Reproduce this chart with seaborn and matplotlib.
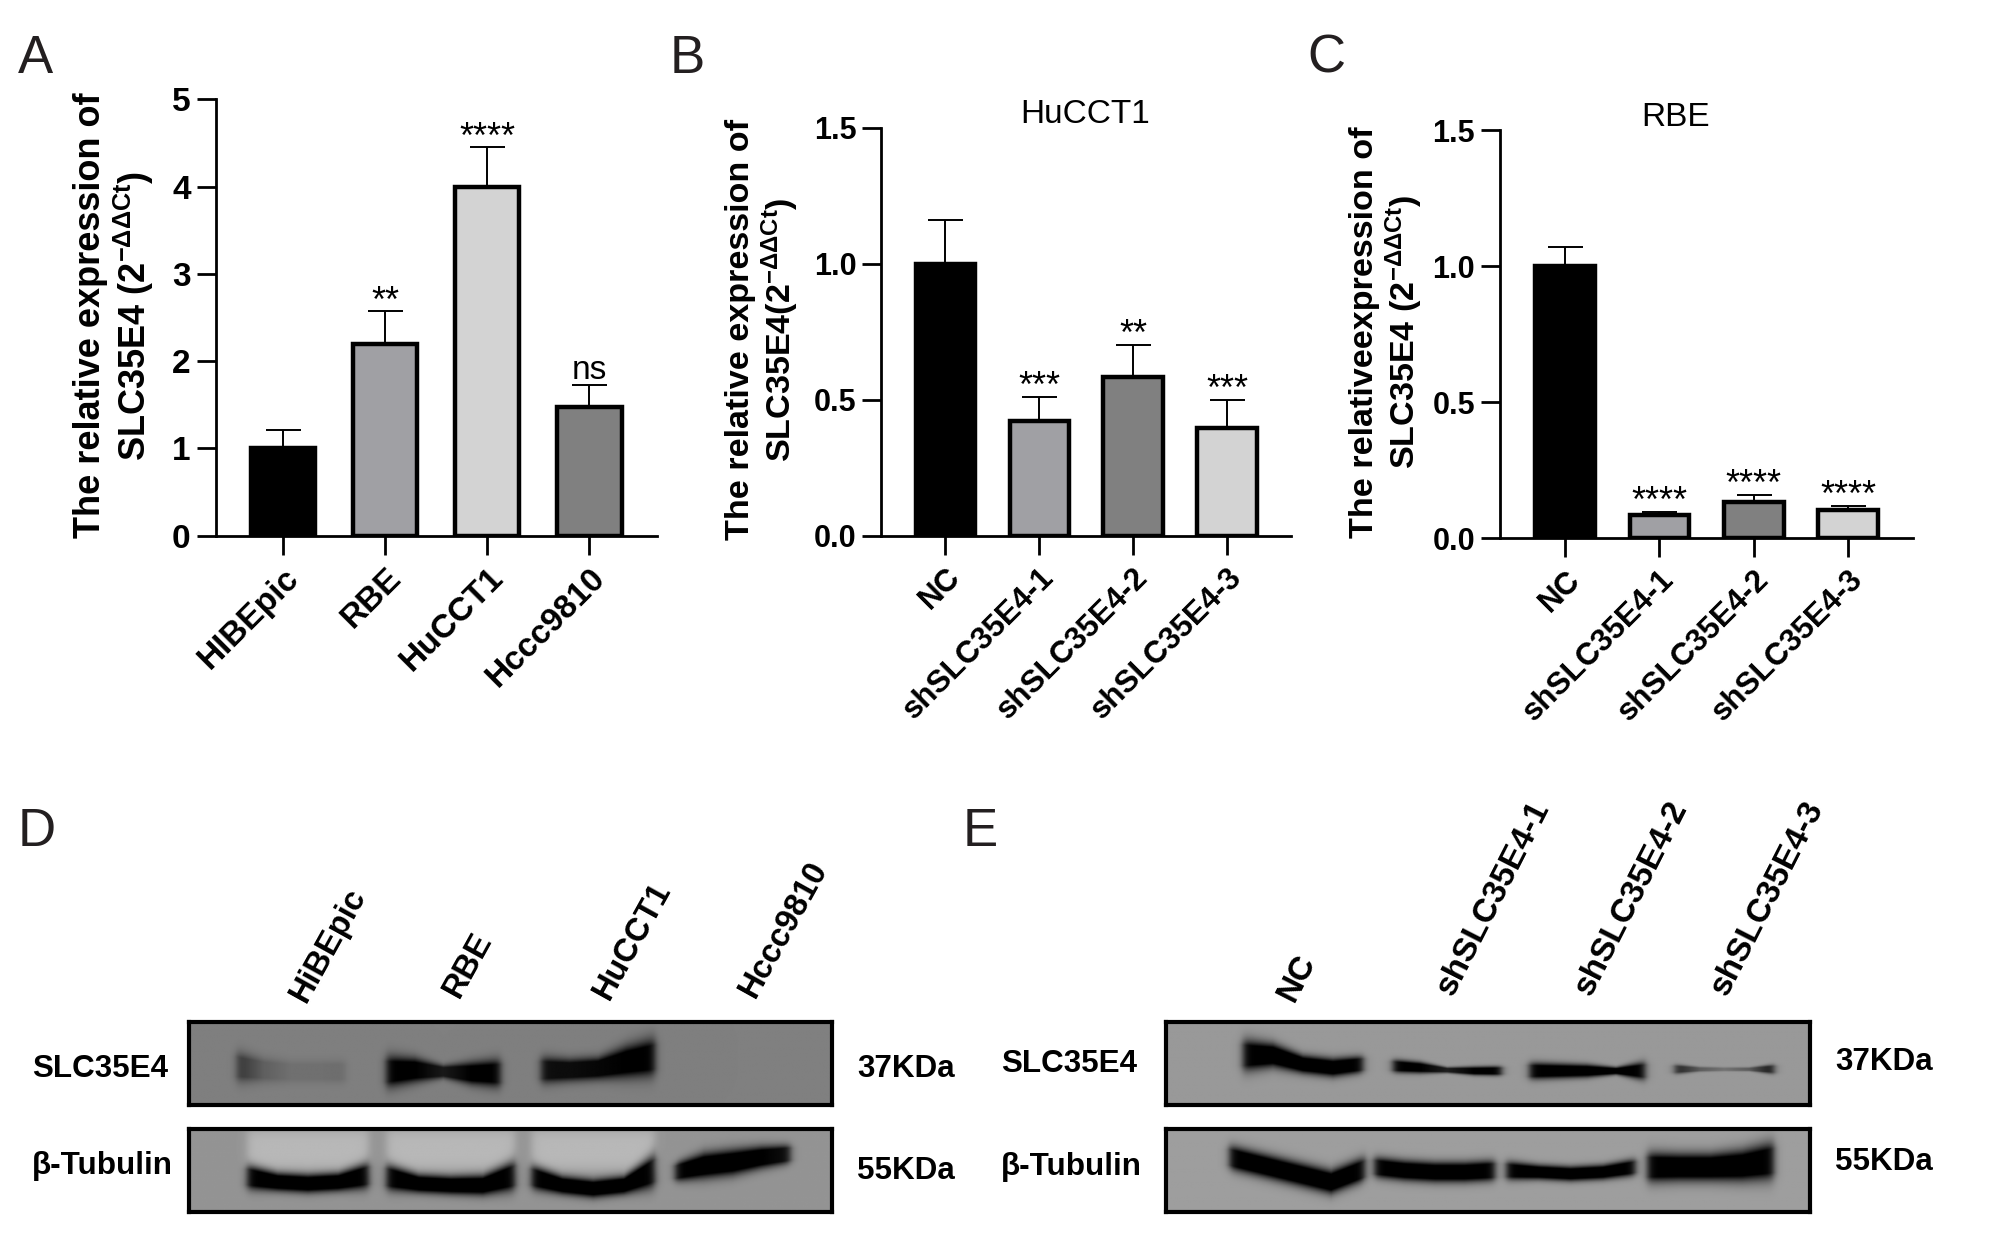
import numpy as np
import pandas as pd
import seaborn as sns
import matplotlib.pyplot as plt

# bar panels
groups_a = ['HIBEpic', 'RBE', 'HuCCT1', 'Hccc9810']
means_a = [1.0, 2.2, 4.0, 1.47]
tops_a = [1.21, 2.57, 4.45, 1.73]
sig_a = ['', '**', '****', 'ns']
colors_a = ['#000000', '#a0a0a4', '#d3d3d3', '#808080']
ticks_a = [0, 1, 2, 3, 4, 5]

groups_kd = ['NC', 'shSLC35E4-1', 'shSLC35E4-2', 'shSLC35E4-3']
colors_kd = ['#000000', '#a0a0a4', '#808080', '#d3d3d3']
ticks_kd = [0.0, 0.5, 1.0, 1.5]

means_b = [1.0, 0.42, 0.585, 0.395]
tops_b = [1.16, 0.51, 0.70, 0.50]
sig_b = ['', '***', '**', '***']

means_c = [1.0, 0.085, 0.135, 0.105]
tops_c = [1.07, 0.095, 0.16, 0.12]
sig_c = ['', '****', '****', '****']

# blot bands: x from, x to, then centre y, half thickness and darkness at 5 points across the band
d_top_bands = [
    (0.074, 0.243, [.54, .58, .60, .60, .60], [.16, .13, .12, .12, .12], [.60, .25, .12, .12, .15]),
    (0.307, 0.484, [.60, .58, .60, .62, .62], [.17, .13, .07, .12, .15], [1, 1, .8, 1, 1]),
    (0.548, 0.725, [.58, .58, .56, .48, .42], [.14, .12, .12, .17, .20], [.9, .9, .95, 1, 1]),
]
d_bot_bands = [
    (0.090, 0.279, [.58, .64, .66, .64, .56], [.13, .10, .10, .10, .14], [1, 1, 1, 1, 1]),
    (0.307, 0.507, [.58, .66, .68, .68, .56], [.14, .10, .10, .11, .16], [1, 1, 1, 1, 1]),
    (0.533, 0.725, [.58, .68, .72, .68, .50], [.13, .10, .10, .10, .18], [1, 1, 1, 1, 1]),
    (0.757, 0.936, [.52, .44, .40, .34, .30], [.10, .14, .14, .12, .10], [1, 1, 1, 1, .9]),
]
d_bot_halos = [(0.09, 0.279), (0.307, 0.507), (0.533, 0.725)]

e_top_bands = [
    (0.119, 0.305, [.40, .40, .51, .55, .51], [.17, .13, .10, .10, .09], [1, 1, 1, 1, 1]),
    (0.352, 0.520, [.53, .55, .58, .59, .59], [.07, .06, .03, .045, .05], [1, 1, .8, 1, 1]),
    (0.564, 0.743, [.59, .59, .59, .59, .59], [.09, .08, .07, .04, .10], [1, 1, 1, 1, 1]),
    (0.790, 0.943, [.57, .57, .57, .57, .57], [.05, .025, .02, .02, .05], [.8, .4, .25, .4, .9]),
]
e_bot_bands = [
    (0.098, 0.308, [.34, .44, .54, .64, .48], [.13, .13, .13, .13, .13], [1, 1, 1, 1, 1]),
    (0.323, 0.510, [.46, .50, .52, .52, .50], [.11, .11, .11, .11, .11], [1, 1, 1, 1, 1]),
    (0.528, 0.728, [.50, .52, .54, .52, .46], [.10, .08, .08, .08, .09], [1, 1, 1, 1, 1]),
    (0.747, 0.943, [.46, .46, .46, .44, .38], [.16, .15, .15, .17, .20], [1, 1, 1, 1, 1]),
]

lanes_d = ['HiBEpic', 'RBE', 'HuCCT1', 'Hccc9810']
lanes_e = ['NC', 'shSLC35E4-1', 'shSLC35E4-2', 'shSLC35E4-3']

sns.set_theme(style='ticks')
plt.rcParams['font.family'] = ['Liberation Sans', 'DejaVu Sans']
plt.rcParams['mathtext.fontset'] = 'custom'
plt.rcParams['mathtext.rm'] = 'Liberation Sans:bold'
plt.rcParams['mathtext.bf'] = 'Liberation Sans:bold'
plt.rcParams['mathtext.it'] = 'Liberation Sans:bold'
for key in ['text.color', 'axes.labelcolor', 'xtick.color', 'ytick.color', 'axes.edgecolor']:
    plt.rcParams[key] = 'black'

S = 2000 / 1568
W, H = 2000, 1245
fig = plt.figure(figsize=(20, 12.45), dpi=100)


def box(x0, y0, x1, y1):
    # corners, y going down
    return [x0 * S / W, 1 - y1 * S / H, (x1 - x0) * S / W, (y1 - y0) * S / H]


def put(x, y, s, **kw):
    fig.text(x * S / W, 1 - y * S / H, s, **kw)


def bar_panel(pos, groups, means, tops, sig, colors, ticks, xlim, ylabel, label_size, label_x,
              xtick_size, ytick_size, title=None, title_x=None):
    ax = fig.add_axes(box(*pos))
    df = pd.DataFrame({'group': groups, 'value': means})
    sns.barplot(data=df, x='group', y='value', hue='group', palette=colors, width=0.63,
                edgecolor='black', linewidth=3.2, errorbar=None, legend=False, ax=ax)
    xs = np.arange(len(groups))
    ax.errorbar(xs, means, yerr=[np.zeros(len(means)), np.array(tops) - np.array(means)],
                fmt='none', ecolor='black', elinewidth=1.4, capsize=12.6, capthick=1.4, zorder=1)
    for x, top, s in zip(xs, tops, sig):
        if s == 'ns':
            ax.annotate(s, (x, top), xytext=(0, 4), textcoords='offset points', ha='center',
                        va='baseline', fontsize=24)
        elif s:
            ax.annotate(s, (x, top), xytext=(0, 0), textcoords='offset points', ha='center',
                        va='baseline', fontsize=26)
    ax.set_xlim(*xlim)
    ax.set_ylim(ticks[0], ticks[-1])
    ax.set_yticks(ticks)
    if ticks[-1] < 2:
        ax.set_yticklabels(['%.1f' % t for t in ticks])
    ax.set_xticks(xs)
    ax.set_xticklabels(groups, rotation=45, ha='right', rotation_mode='anchor')
    ax.tick_params(axis='both', length=14, width=2, pad=4)
    ax.tick_params(axis='x', labelsize=xtick_size, pad=5)
    ax.tick_params(axis='y', labelsize=ytick_size)
    for lab in ax.get_xticklabels() + ax.get_yticklabels():
        lab.set_fontweight('bold')
    ax.set_xlabel('')
    ax.set_ylabel(ylabel, fontsize=label_size, fontweight='bold', linespacing=1.1)
    ax.yaxis.set_label_coords(label_x, 0.505)
    sns.despine(ax=ax)
    ax.spines['left'].set_linewidth(2)
    ax.spines['bottom'].set_linewidth(2)
    if title:
        put(title_x, pos[1] - 10, title, fontsize=24, ha='center', va='center')
    return ax


bar_panel((169, 78, 515, 420), groups_a, means_a, tops_a, sig_a, colors_a, ticks_a, (-0.66, 3.66),
          'The relative expression of\nSLC35E4 (2$^{\\mathbf{-ΔΔCt}}$)', 26, -0.136, 24, 24)
bar_panel((691, 100, 1012, 420), groups_kd, means_b, tops_b, sig_b, colors_kd, ticks_kd, (-0.68, 3.68),
          'The relative expression of\nSLC35E4(2$^{\\mathbf{-ΔΔCt}}$)', 24.6, -0.196, 22.5, 22, 'HuCCT1', 851)
bar_panel((1176, 102, 1500, 422), groups_kd, means_c, tops_c, sig_c, colors_kd, ticks_kd, (-0.69, 3.69),
          'The relativeexpression of\nSLC35E4 (2$^{\\mathbf{-ΔΔCt}}$)', 24.6, -0.182, 22.5, 22, 'RBE', 1314)


def blot_image(bands, bg, halos=()):
    yy, xx = np.mgrid[0:1:140j, 0:1:560j]
    img = np.full(yy.shape, bg, dtype=float)
    for x0, x1 in halos:
        edge = 0.5 * (np.tanh((xx - x0) / 0.008) - np.tanh((xx - x1) / 0.008))
        img += 0.14 * edge * np.exp(-((yy - 0.25) / 0.28) ** 4)
    for x0, x1, ys, thick, dark in bands:
        at = np.linspace(x0, x1, 5)
        cy = np.interp(xx, at, ys)
        th = np.interp(xx, at, thick)
        d = np.interp(xx, at, dark)
        edge = 0.5 * (np.tanh((xx - x0) / 0.007) - np.tanh((xx - x1) / 0.007))
        band = np.clip(1.7 * np.exp(-((yy - cy) / th) ** 2), 0, 1)
        img = img * (1 - band * edge * d)
    return img


def blot(pos, bands, bg, halos=()):
    ax = fig.add_axes(box(*pos))
    ax.imshow(blot_image(bands, bg, halos), cmap='gray', vmin=0, vmax=1, aspect='auto',
              interpolation='bilinear')
    ax.set_xticks([])
    ax.set_yticks([])
    for sp in ax.spines.values():
        sp.set_visible(True)
        sp.set_linewidth(3)
        sp.set_color('black')


blot((148, 801, 652, 866), d_top_bands, 0.50)
blot((148, 885, 652, 950), d_bot_bands, 0.58, d_bot_halos)
blot((914, 801, 1419, 866), e_top_bands, 0.60)
blot((914, 885, 1419, 950), e_bot_bands, 0.62)

for x, y, s in [(25, 838, 'SLC35E4'), (25, 914, 'β-Tubulin'), (672, 838, '37KDa'), (672, 918, '55KDa'),
                (785, 834, 'SLC35E4'), (785, 915, 'β-Tubulin'), (1439, 833, '37KDa'), (1439, 911, '55KDa')]:
    put(x, y, s, fontsize=22.6, fontweight='bold', ha='left', va='center')

for (x, y), s in zip([(240, 787), (360, 783), (477, 785), (592, 783)], lanes_d):
    put(x, y, s, fontsize=23.5, fontweight='bold', rotation=61, rotation_mode='anchor', ha='left', va='baseline')
for (x, y), s in zip([(1014, 786), (1139, 782), (1247, 782), (1354, 782)], lanes_e):
    put(x, y, s, fontsize=24, fontweight='bold', rotation=63, rotation_mode='anchor', ha='left', va='baseline')

for x, y, s in [(14, 57, 'A'), (525, 57, 'B'), (1025, 57, 'C'), (14, 663, 'D'), (755, 663, 'E')]:
    put(x, y, s, fontsize=38, color='#231f20', ha='left', va='baseline')

fig.savefig('out.png', dpi=100, facecolor='white')
